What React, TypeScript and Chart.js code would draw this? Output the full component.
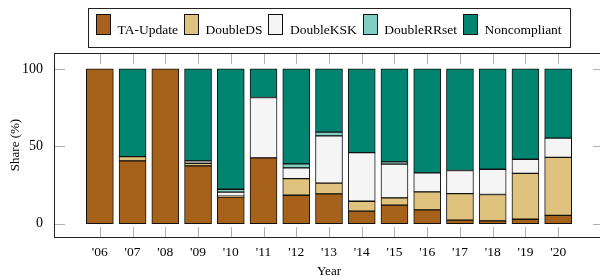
import React, { useEffect, useRef } from 'react';
import { Chart, registerables } from 'chart.js';

Chart.register(...registerables);

const years = ["'06", "'07", "'08", "'09", "'10", "'11", "'12", "'13", "'14", "'15", "'16", "'17", "'18", "'19", "'20"];
const taUpdate = [100, 40.5, 100, 37.3, 17.1, 42.5, 18.3, 19.2, 8.0, 11.9, 8.8, 2.2, 1.7, 2.8, 5.3];
const doubleDS = [0, 2.8, 0, 1.7, 0.6, 0, 10.8, 6.9, 6.4, 4.7, 11.7, 17.2, 17.1, 29.7, 37.5];
const doubleKSK = [0, 0, 0, 1.5, 2.6, 39, 6.9, 30.6, 31.5, 21.9, 12.3, 14.9, 16.3, 9.1, 12.4];
const doubleRRset = [0, 0, 0, 0, 1.9, 0, 2.6, 2.4, 0, 1.4, 0, 0, 0, 0, 0];
const noncompliant = [0, 56.7, 0, 59.5, 77.8, 18.5, 61.4, 40.9, 54.1, 60.1, 67.2, 65.7, 64.9, 58.4, 44.8];

const seriesNames = ['TA-Update', 'DoubleDS', 'DoubleKSK', 'DoubleRRset', 'Noncompliant'];
const seriesColors = ['#a6611a', '#dfc27d', '#f5f5f5', '#80cdc1', '#018571'];
const yTicks = [0, 50, 100];

const FONT = '"Liberation Serif", "Times New Roman", serif';

export default function App() {
  const ref = useRef<HTMLCanvasElement>(null);

  useEffect(() => {
    const canvas = ref.current!;
    const series = [taUpdate, doubleDS, doubleKSK, doubleRRset, noncompliant];
    const datasets = series.map((vals, k) => ({
      label: seriesNames[k],
      data: vals.map((v, i) => ({ x: i, y: v > 0 ? v : null })),
      backgroundColor: seriesColors[k],
      borderColor: '#111',
      borderWidth: 1,
      borderSkipped: false,
      barThickness: 27,
    }));

    const framePlugin = {
      id: 'frame',
      afterDatasetsDraw(chart: any) {
        const { ctx, chartArea: a, scales } = chart;
        const xs = scales.x;
        const ys = scales.y;
        ctx.save();
        ctx.strokeStyle = '#b0b0b0';
        ctx.lineWidth = 1;
        ctx.beginPath();
        years.forEach((_, i) => {
          const px = Math.round(xs.getPixelForValue(i)) + 0.5;
          ctx.moveTo(px, a.bottom);
          ctx.lineTo(px, a.bottom - 10);
          ctx.moveTo(px, a.top);
          ctx.lineTo(px, a.top + 11);
        });
        yTicks.forEach((v) => {
          const py = Math.round(ys.getPixelForValue(v)) + 0.5;
          ctx.moveTo(a.left, py);
          ctx.lineTo(a.left + 11, py);
          ctx.moveTo(a.right, py);
          ctx.lineTo(a.right - 11, py);
        });
        ctx.stroke();
        ctx.strokeStyle = '#222';
        ctx.lineWidth = 1;
        ctx.strokeRect(Math.round(a.left) + 0.5, Math.round(a.top) + 0.5, Math.round(a.width), Math.round(a.height));

        ctx.font = `13.5px ${FONT}`;
        const sw = 15, sh = 21, gapText = 6.5, gapItem = 6, pad = 8;
        const widths = seriesNames.map((n) => ctx.measureText(n).width);
        const total = widths.reduce((s, w) => s + sw + gapText + w, 0) + gapItem * (seriesNames.length - 1);
        const cx = (a.left + a.right) / 2;
        const boxW = total + pad * 2;
        const boxL = Math.round(cx - boxW / 2);
        const boxT = 8;
        const boxB = 47;
        ctx.fillStyle = '#fff';
        ctx.fillRect(boxL, boxT, boxW, boxB - boxT);
        ctx.strokeStyle = '#222';
        ctx.lineWidth = 1;
        ctx.strokeRect(boxL + 0.5, boxT + 0.5, Math.round(boxW), boxB - boxT);
        let x = boxL + pad;
        seriesNames.forEach((n, k) => {
          const sx = Math.round(x);
          ctx.fillStyle = seriesColors[k];
          ctx.fillRect(sx, 14, sw, sh);
          ctx.strokeStyle = '#111';
          ctx.strokeRect(sx + 0.5, 14.5, sw - 1, sh - 1);
          ctx.fillStyle = '#000';
          ctx.textBaseline = 'alphabetic';
          ctx.textAlign = 'left';
          ctx.fillText(n, x + sw + gapText, 34);
          x += sw + gapText + widths[k] + gapItem;
        });
        ctx.restore();
      },
    };

    const chart = new Chart(canvas, {
      type: 'bar',
      data: { datasets: datasets as any },
      options: {
        animation: false,
        responsive: false,
        maintainAspectRatio: false,
        layout: { padding: { top: 53, right: 16, left: 0, bottom: 0 } },
        plugins: {
          legend: { display: false },
          tooltip: { enabled: false },
        },
        scales: {
          x: {
            type: 'linear',
            stacked: true,
            min: -1.4,
            max: 15.4,
            offset: false,
            grid: { display: false, drawTicks: false },
            border: { display: false },
            afterBuildTicks: (s: any) => {
              s.ticks = years.map((_, i) => ({ value: i }));
            },
            afterFit: (s: any) => {
              s.height = 43;
            },
            ticks: {
              autoSkip: false,
              maxRotation: 0,
              padding: 7,
              color: '#000',
              font: { family: FONT, size: 13.5 },
              callback: (v: any) => years[v] ?? '',
            },
            title: {
              display: true,
              text: 'Year',
              color: '#000',
              font: { family: FONT, size: 13 },
              padding: { top: 0, bottom: 1 },
            },
          },
          y: {
            stacked: true,
            min: -8.7,
            max: 110.3,
            grid: { display: false, drawTicks: false },
            border: { display: false },
            afterBuildTicks: (s: any) => {
              s.ticks = yTicks.map((v) => ({ value: v }));
            },
            afterFit: (s: any) => {
              s.width = 54;
            },
            ticks: {
              padding: 11,
              color: '#000',
              font: { family: FONT, size: 14 },
            },
            title: {
              display: true,
              text: 'Share (%)',
              color: '#000',
              font: { family: FONT, size: 13 },
              padding: { top: 8, bottom: 0 },
            },
          },
        },
      },
      plugins: [framePlugin],
    });
    return () => chart.destroy();
  }, []);

  return (
    <div style={{ position: 'fixed', left: 0, top: 0, width: 620, height: 280, background: '#fff' }}>
      <canvas ref={ref} width={620} height={280} style={{ width: 620, height: 280, display: 'block' }} />
    </div>
  );
}
